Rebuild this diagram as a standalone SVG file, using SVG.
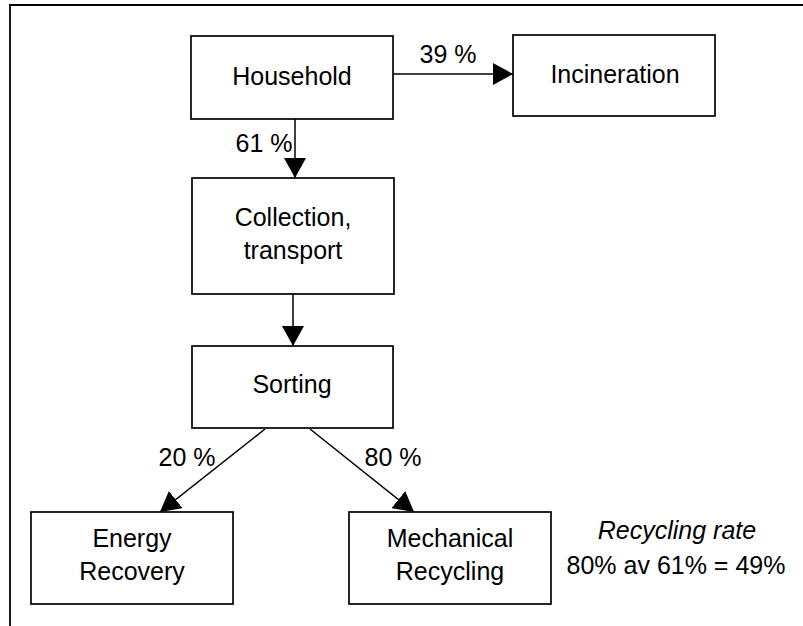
<svg xmlns="http://www.w3.org/2000/svg" width="803" height="626" viewBox="0 0 803 626">
<style>
.box{fill:#fff;stroke:#000;stroke-width:1.7}
.lbl{font-family:"Liberation Sans",Arial,sans-serif;font-size:25px;fill:#000;text-anchor:middle}
.edge{stroke:#000;stroke-width:1.5;fill:none;marker-end:url(#ah)}
</style>
<defs>
<marker id="ah" markerUnits="userSpaceOnUse" markerWidth="20" markerHeight="22" refX="20" refY="11" orient="auto" viewBox="0 0 20 22">
<path d="M0,0 L20,11 L0,22 z" fill="#000"/>
</marker>
</defs>
<rect width="803" height="626" fill="#fff"/>
<g id="frame">
<line x1="9" y1="5" x2="803" y2="5" stroke="#000" stroke-width="2.2"/>
<line x1="10" y1="4" x2="10" y2="626" stroke="#000" stroke-width="1.8"/>
</g>
<g id="connectors">
<line class="edge" x1="393" y1="74" x2="513" y2="74"/>
<line class="edge" x1="295" y1="119" x2="295" y2="178"/>
<line class="edge" x1="293" y1="294" x2="293" y2="346"/>
<line class="edge" x1="265" y1="429" x2="160" y2="512"/>
<line class="edge" x1="310" y1="429" x2="414" y2="512"/>
<text class="lbl" x="448" y="63">39 %</text>
<text class="lbl" x="264" y="152">61 %</text>
<text class="lbl" x="187" y="466">20 %</text>
<text class="lbl" x="393" y="466">80 %</text>
</g>
<g id="household">
<rect class="box" x="191" y="36" width="202" height="83"/>
<text class="lbl" x="292" y="85">Household</text>
</g>
<g id="incineration">
<rect class="box" x="513" y="35" width="202" height="81"/>
<text class="lbl" x="615" y="83">Incineration</text>
</g>
<g id="collection">
<rect class="box" x="192" y="178" width="202" height="116"/>
<text class="lbl" x="293" y="226">Collection,</text>
<text class="lbl" x="293" y="259">transport</text>
</g>
<g id="sorting">
<rect class="box" x="192" y="346" width="201" height="82"/>
<text class="lbl" x="292" y="393">Sorting</text>
</g>
<g id="energy">
<rect class="box" x="31" y="512" width="202" height="92"/>
<text class="lbl" x="132" y="547">Energy</text>
<text class="lbl" x="132" y="580">Recovery</text>
</g>
<g id="mechanical">
<rect class="box" x="349" y="512" width="202" height="92"/>
<text class="lbl" x="450" y="547">Mechanical</text>
<text class="lbl" x="450" y="580">Recycling</text>
</g>
<g id="note">
<text class="lbl" x="677" y="539" font-style="italic">Recycling rate</text>
<text class="lbl" x="676" y="574">80% av 61% = 49%</text>
</g>
</svg>
